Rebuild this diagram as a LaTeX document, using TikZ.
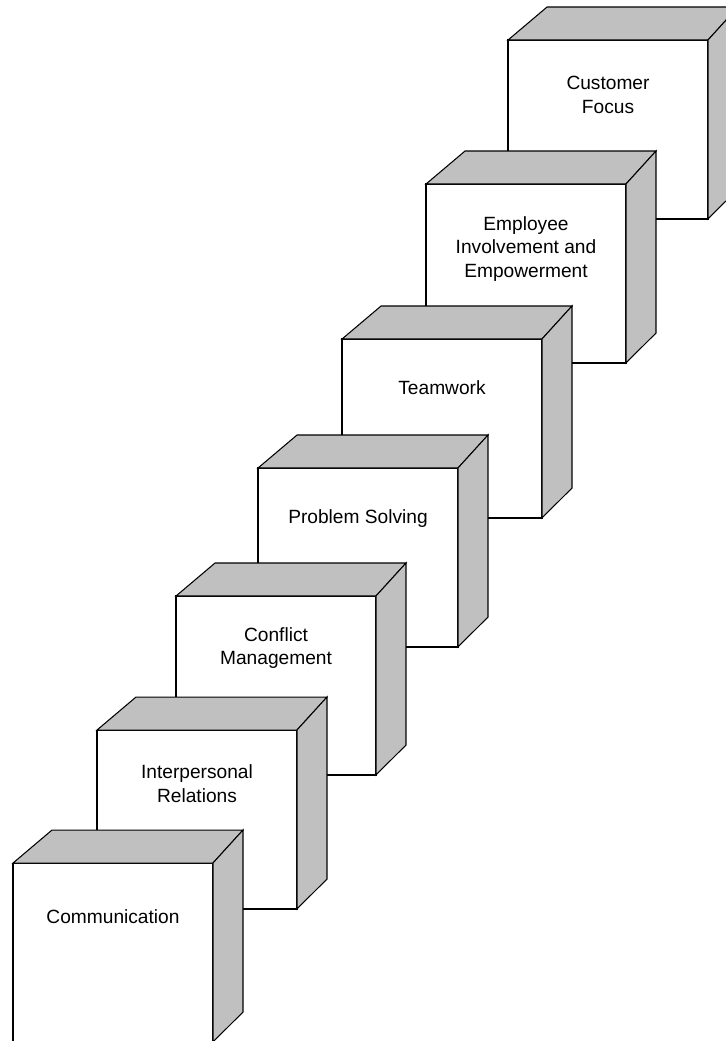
\documentclass[tikz,border=0pt]{standalone}
\usepackage{fontspec}
\setmainfont{Liberation Sans}
\usepackage{tikz}

\definecolor{sidegray}{RGB}{192,192,192}

\begin{document}
\begin{tikzpicture}[x=0.02cm,y=-0.02cm,line width=0.6pt,
		front/.style={rectangle,draw,fill=white,inner sep=0pt,outer sep=0pt,minimum width=4cm,minimum height=3.58cm},
		side/.style={draw,fill=sidegray,line join=miter},
		stepname/.style={align=center,font=\fontsize{10.9}{13.6}\selectfont}]
				\clip (0,0) rectangle (726,1041);

				% from the top step down, so each lower cube covers the one behind
				\node[front] (cust) at (608,129.5) {};
				\filldraw[side] (cust.north west) -- ++(39,-33) -- ++(191,0) -- (cust.north east) -- cycle;
				\filldraw[side] (cust.north east) -- ++(30,-33) -- ++(0,182) -- (cust.south east) -- cycle;
				\node[stepname] (custtext) at (608,95) {Customer\\Focus};

				\node[front] (empl) at (526,273.5) {};
				\filldraw[side] (empl.north west) -- ++(39,-33) -- ++(191,0) -- (empl.north east) -- cycle;
				\filldraw[side] (empl.north east) -- ++(30,-33) -- ++(0,182) -- (empl.south east) -- cycle;
				\node[stepname] (empltext) at (526,249) {Employee\\Involvement and\\Empowerment};

				\node[front] (team) at (442,428.5) {};
				\filldraw[side] (team.north west) -- ++(39,-33) -- ++(191,0) -- (team.north east) -- cycle;
				\filldraw[side] (team.north east) -- ++(30,-33) -- ++(0,182) -- (team.south east) -- cycle;
				\node[stepname] (teamtext) at (442,388) {Teamwork};

				\node[front] (prob) at (358,557.5) {};
				\filldraw[side] (prob.north west) -- ++(39,-33) -- ++(191,0) -- (prob.north east) -- cycle;
				\filldraw[side] (prob.north east) -- ++(30,-33) -- ++(0,182) -- (prob.south east) -- cycle;
				\node[stepname] (probtext) at (358,519) {Problem Solving};

				\node[front] (conf) at (276,685.5) {};
				\filldraw[side] (conf.north west) -- ++(39,-33) -- ++(191,0) -- (conf.north east) -- cycle;
				\filldraw[side] (conf.north east) -- ++(30,-33) -- ++(0,182) -- (conf.south east) -- cycle;
				\node[stepname] (conftext) at (276,648) {Conflict\\Management};

				\node[front] (inter) at (197,819.5) {};
				\filldraw[side] (inter.north west) -- ++(39,-33) -- ++(191,0) -- (inter.north east) -- cycle;
				\filldraw[side] (inter.north east) -- ++(30,-33) -- ++(0,182) -- (inter.south east) -- cycle;
				\node[stepname] (intertext) at (197,784) {Interpersonal\\Relations};

				\node[front] (comm) at (113,952.5) {};
				\filldraw[side] (comm.north west) -- ++(39,-33) -- ++(191,0) -- (comm.north east) -- cycle;
				\filldraw[side] (comm.north east) -- ++(30,-33) -- ++(0,182) -- (comm.south east) -- cycle;
				\node[stepname] (commtext) at (113,917) {Communication};
\end{tikzpicture}
\end{document}
